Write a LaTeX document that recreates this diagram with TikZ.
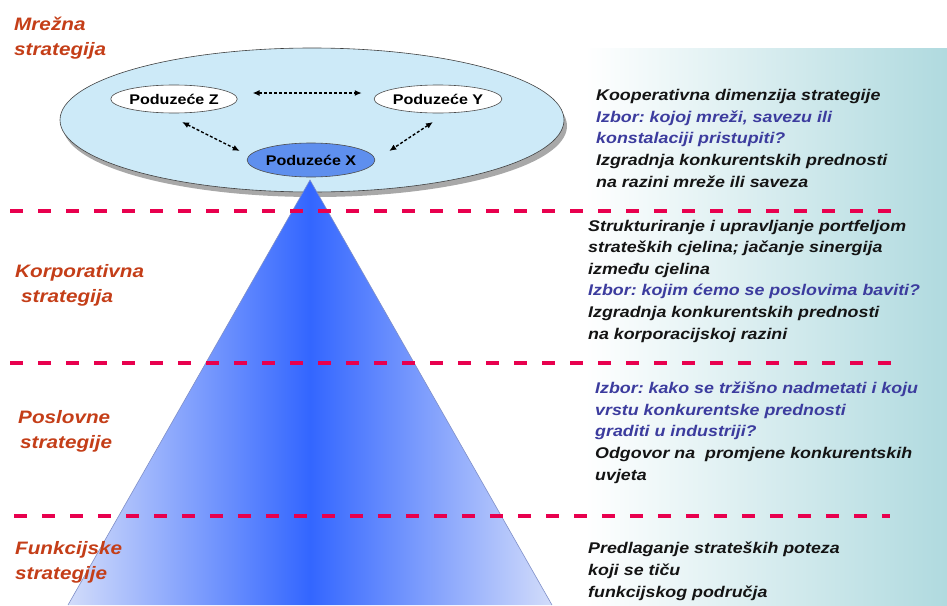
\documentclass[tikz,border=0pt]{standalone}
\usepackage{fontspec}
\setmainfont{Liberation Sans}
\newfontfamily\rtfont[FakeStretch=1.15]{Liberation Sans}
\frenchspacing
\usetikzlibrary{arrows.meta,shapes.geometric}
\definecolor{teal1}{HTML}{B0DADF}
\definecolor{ellblue}{HTML}{CDEAF8}
\definecolor{shadowgray}{HTML}{A8A8A8}
\definecolor{xblue}{HTML}{5E8FEE}
\definecolor{pyrlight}{HTML}{D2DCFA}
\definecolor{pyrdark}{HTML}{3366FF}
\definecolor{pyredge}{HTML}{7F8FC8}
\definecolor{dashred}{HTML}{E8004E}
\definecolor{lblred}{HTML}{C43E18}
\definecolor{txtblue}{HTML}{3C3C9E}
\definecolor{txtblack}{HTML}{141414}
\begin{document}
\begin{tikzpicture}[x=1pt,y=-1pt,
  pnode/.style={ellipse,draw=black!70,line width=0.6pt,inner sep=0pt,minimum width=122pt,minimum height=28pt,font=\rtfont\fontsize{14}{16}\selectfont\bfseries},
  biglink/.style={line width=1.4pt,dash pattern=on 3pt off 2pt,{Latex[length=7pt,width=6pt]}-{Latex[length=7pt,width=6pt]}},
  reddash/.style={dashred,line width=3.8pt,dash pattern=on 13pt off 15pt},
  lbl/.style={anchor=base west,inner sep=0pt,align=left,text=lblred,font=\rtfont\fontsize{18}{25}\selectfont\bfseries\itshape},
  rtxt/.style={anchor=base west,inner sep=0pt,align=left,font=\rtfont\fontsize{15.5}{21.6}\selectfont\bfseries\itshape}]
\useasboundingbox (0,0) rectangle (947,605);
% background gradient
\shade[left color=white,right color=teal1] (585,48) rectangle (947,605);
% big network ellipse with shadow
\fill[shadowgray] (315,126) ellipse [x radius=252pt,y radius=71pt];
\node[ellipse,draw=black!75,line width=0.6pt,fill=ellblue,minimum width=504pt,minimum height=144pt,inner sep=0pt] (net) at (312,120) {};
% pyramid
\shade[left color=pyrlight,right color=pyrlight,middle color=pyrdark] (310,180) -- (552,605) -- (68,605) -- cycle;
\draw[pyredge,line width=0.6pt] (68,605) -- (310,180) -- (552,605);
% companies
\node[pnode,fill=white] (Z) at (174,99) {Poduzeće Z};
\node[pnode,fill=white] (Y) at (438,99) {Poduzeće Y};
\node[pnode,fill=xblue,minimum height=34pt] (X) at (311,160) {Poduzeće X};
\draw[biglink] ([shift={(15,-6)}]Z.east) -- ([shift={(-12,-6)}]Y.west);
\draw[biglink] ([shift={(8,23)}]Z.center) -- ([shift={(-7,-9)}]X.west);
\draw[biglink] ([shift={(-5,23)}]Y.center) -- ([shift={(14,-9)}]X.east);
% red dashed separators
\draw[reddash] (10,211) -- (892,211);
\draw[reddash] (10,363) -- (892,363);
\draw[reddash] (14,516) -- (890,516);
% left labels (anchor = baseline of last line)
\node[lbl] (l1) at (14,55) {Mrežna\\strategija};
\node[lbl] (l2) at (15,302) {Korporativna\\\hspace*{6pt}strategija};
\node[lbl] (l3) at (18,448) {Poslovne\\\hspace*{2pt}strategije};
\node[lbl] (l4) at (15,579) {Funkcijske\\strategije};
% right texts (anchor = baseline of last line)
\node[rtxt] (r1) at (596,187) {\textcolor{txtblack}{Kooperativna dimenzija strategije}\\\textcolor{txtblue}{Izbor: kojoj mreži, savezu ili}\\\textcolor{txtblue}{konstalaciji pristupiti?}\\\textcolor{txtblack}{Izgradnja konkurentskih prednosti}\\\textcolor{txtblack}{na razini mreže ili saveza}};
\node[rtxt] (r2) at (588,339) {\textcolor{txtblack}{Strukturiranje i upravljanje portfeljom}\\\textcolor{txtblack}{strateških cjelina; jačanje sinergija}\\\textcolor{txtblack}{između cjelina}\\\textcolor{txtblue}{Izbor: kojim ćemo se poslovima baviti?}\\\textcolor{txtblack}{Izgradnja konkurentskih prednosti}\\\textcolor{txtblack}{na korporacijskoj razini}};
\node[rtxt] (r3) at (595,480) {\textcolor{txtblue}{Izbor: kako se tržišno nadmetati i koju}\\\textcolor{txtblue}{vrstu konkurentske prednosti}\\\textcolor{txtblue}{graditi u industriji?}\\\textcolor{txtblack}{Odgovor na\ \ promjene konkurentskih}\\\textcolor{txtblack}{uvjeta}};
\node[rtxt] (r4) at (588,597) {\textcolor{txtblack}{Predlaganje strateških poteza}\\\textcolor{txtblack}{koji se tiču}\\\textcolor{txtblack}{funkcijskog područja}};
\end{tikzpicture}
\end{document}
